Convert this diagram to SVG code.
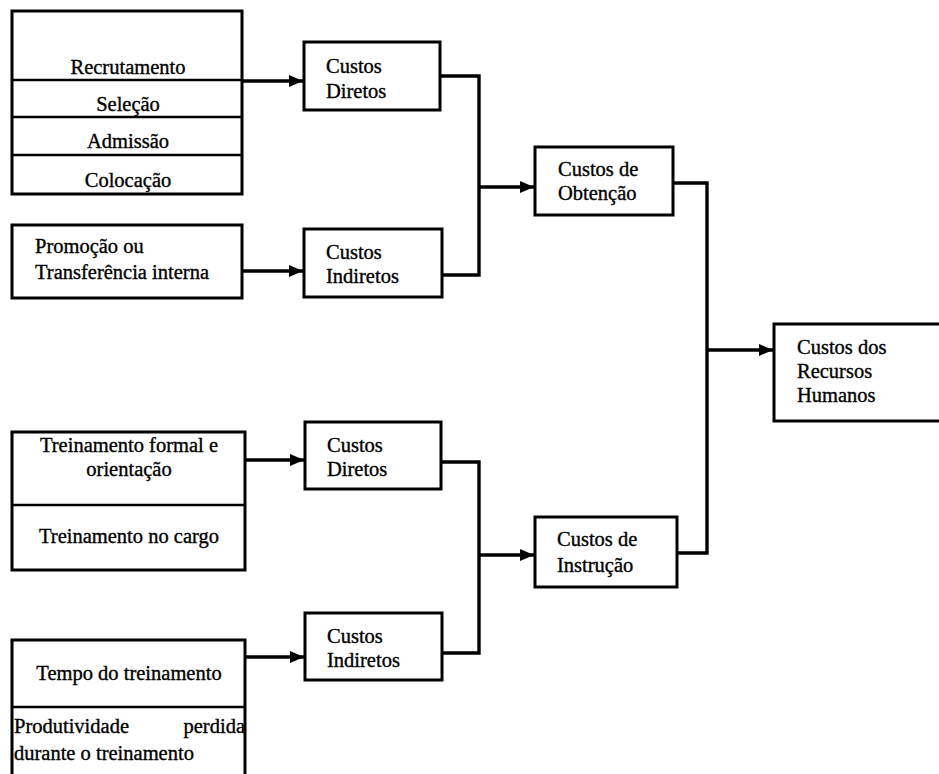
<svg xmlns="http://www.w3.org/2000/svg" width="939" height="774" viewBox="0 0 939 774">
  <style>
    .box { fill: #fff; stroke: #000; stroke-width: 3; }
    .div { stroke: #000; stroke-width: 2.4; fill: none; }
    .wire { fill: none; stroke: #000; stroke-width: 3.4; stroke-linejoin: miter; }
    .arrow { fill: none; stroke: #000; stroke-width: 3.4; marker-end: url(#tip); }
    text { font-family: "Liberation Serif", "Times New Roman", serif; font-size: 20.5px; fill: #000; stroke: #000; stroke-width: 0.35; }
    .c { text-anchor: middle; }
  </style>
  <defs>
    <marker id="tip" markerUnits="userSpaceOnUse" markerWidth="16" markerHeight="14" refX="14" refY="6" orient="auto">
      <path d="M0,0 L14,6 L0,12 Z" fill="#000"/>
    </marker>
  </defs>
  <rect width="939" height="774" fill="#fff"/>

  <!-- Acquisition: direct cost items -->
  <g id="itens-obtencao-diretos">
    <rect class="box" x="12" y="11" width="230" height="183"/>
    <line class="div" x1="12" y1="80" x2="242" y2="80"/>
    <line class="div" x1="12" y1="117" x2="242" y2="117"/>
    <line class="div" x1="12" y1="155" x2="242" y2="155"/>
    <text class="c" x="128" y="74">Recrutamento</text>
    <text class="c" x="128" y="111">Seleção</text>
    <text class="c" x="128" y="148">Admissão</text>
    <text class="c" x="128" y="187">Colocação</text>
  </g>

  <!-- Acquisition: indirect cost items -->
  <g id="itens-obtencao-indiretos">
    <rect class="box" x="12" y="225" width="230" height="73"/>
    <text x="35" y="253">Promoção ou</text>
    <text x="35" y="279">Transferência interna</text>
  </g>

  <g id="obtencao-diretos">
    <rect class="box" x="304" y="42" width="136" height="68"/>
    <text x="326" y="73">Custos</text>
    <text x="326" y="98">Diretos</text>
  </g>

  <g id="obtencao-indiretos">
    <rect class="box" x="304" y="229" width="138" height="68"/>
    <text x="326" y="259">Custos</text>
    <text x="326" y="283">Indiretos</text>
  </g>

  <g id="custos-obtencao">
    <rect class="box" x="535" y="147" width="138" height="68"/>
    <text x="558" y="176">Custos de</text>
    <text x="558" y="200">Obtenção</text>
  </g>

  <g id="custos-rh">
    <path class="box" d="M942,324 L774,324 L774,421 L942,421"/>
    <text x="797" y="354">Custos dos</text>
    <text x="797" y="378">Recursos</text>
    <text x="797" y="402">Humanos</text>
  </g>

  <!-- Training: direct cost items -->
  <g id="itens-instrucao-diretos">
    <rect class="box" x="12" y="432" width="233" height="138"/>
    <line class="div" x1="12" y1="505" x2="245" y2="505"/>
    <text class="c" x="129" y="452">Treinamento formal e</text>
    <text class="c" x="129" y="476">orientação</text>
    <text class="c" x="129" y="543">Treinamento no cargo</text>
  </g>

  <!-- Training: indirect cost items -->
  <g id="itens-instrucao-indiretos">
    <rect class="box" x="12" y="640" width="233" height="145"/>
    <line class="div" x1="12" y1="707" x2="245" y2="707"/>
    <text class="c" x="129" y="680">Tempo do treinamento</text>
    <text y="733"><tspan x="14">Produtividade</tspan><tspan x="245" text-anchor="end">perdida</tspan></text>
    <text x="14" y="760">durante o treinamento</text>
  </g>

  <g id="instrucao-diretos">
    <rect class="box" x="305" y="422" width="136" height="67"/>
    <text x="327" y="452">Custos</text>
    <text x="327" y="476">Diretos</text>
  </g>

  <g id="instrucao-indiretos">
    <rect class="box" x="305" y="613" width="137" height="67"/>
    <text x="327" y="643">Custos</text>
    <text x="327" y="667">Indiretos</text>
  </g>

  <g id="custos-instrucao">
    <rect class="box" x="535" y="517" width="142" height="70"/>
    <text x="557" y="546">Custos de</text>
    <text x="557" y="572">Instrução</text>
  </g>

  <g id="conectores">
    <!-- items to cost types -->
    <line class="arrow" x1="242" y1="81" x2="303" y2="81"/>
    <line class="arrow" x1="242" y1="271" x2="303" y2="271"/>
    <line class="arrow" x1="245" y1="460" x2="304" y2="460"/>
    <line class="arrow" x1="245" y1="657" x2="304" y2="657"/>
    <!-- acquisition merge -->
    <path class="wire" d="M440,76 L479,76 L479,275 L442,275"/>
    <line class="arrow" x1="479" y1="187" x2="534" y2="187"/>
    <!-- training merge -->
    <path class="wire" d="M441,462 L479,462 L479,653 L442,653"/>
    <line class="arrow" x1="479" y1="555" x2="534" y2="555"/>
    <!-- totals -->
    <path class="wire" d="M673,183 L707,183 L707,553 L677,553"/>
    <line class="arrow" x1="707" y1="350" x2="773" y2="350"/>
  </g>
</svg>
